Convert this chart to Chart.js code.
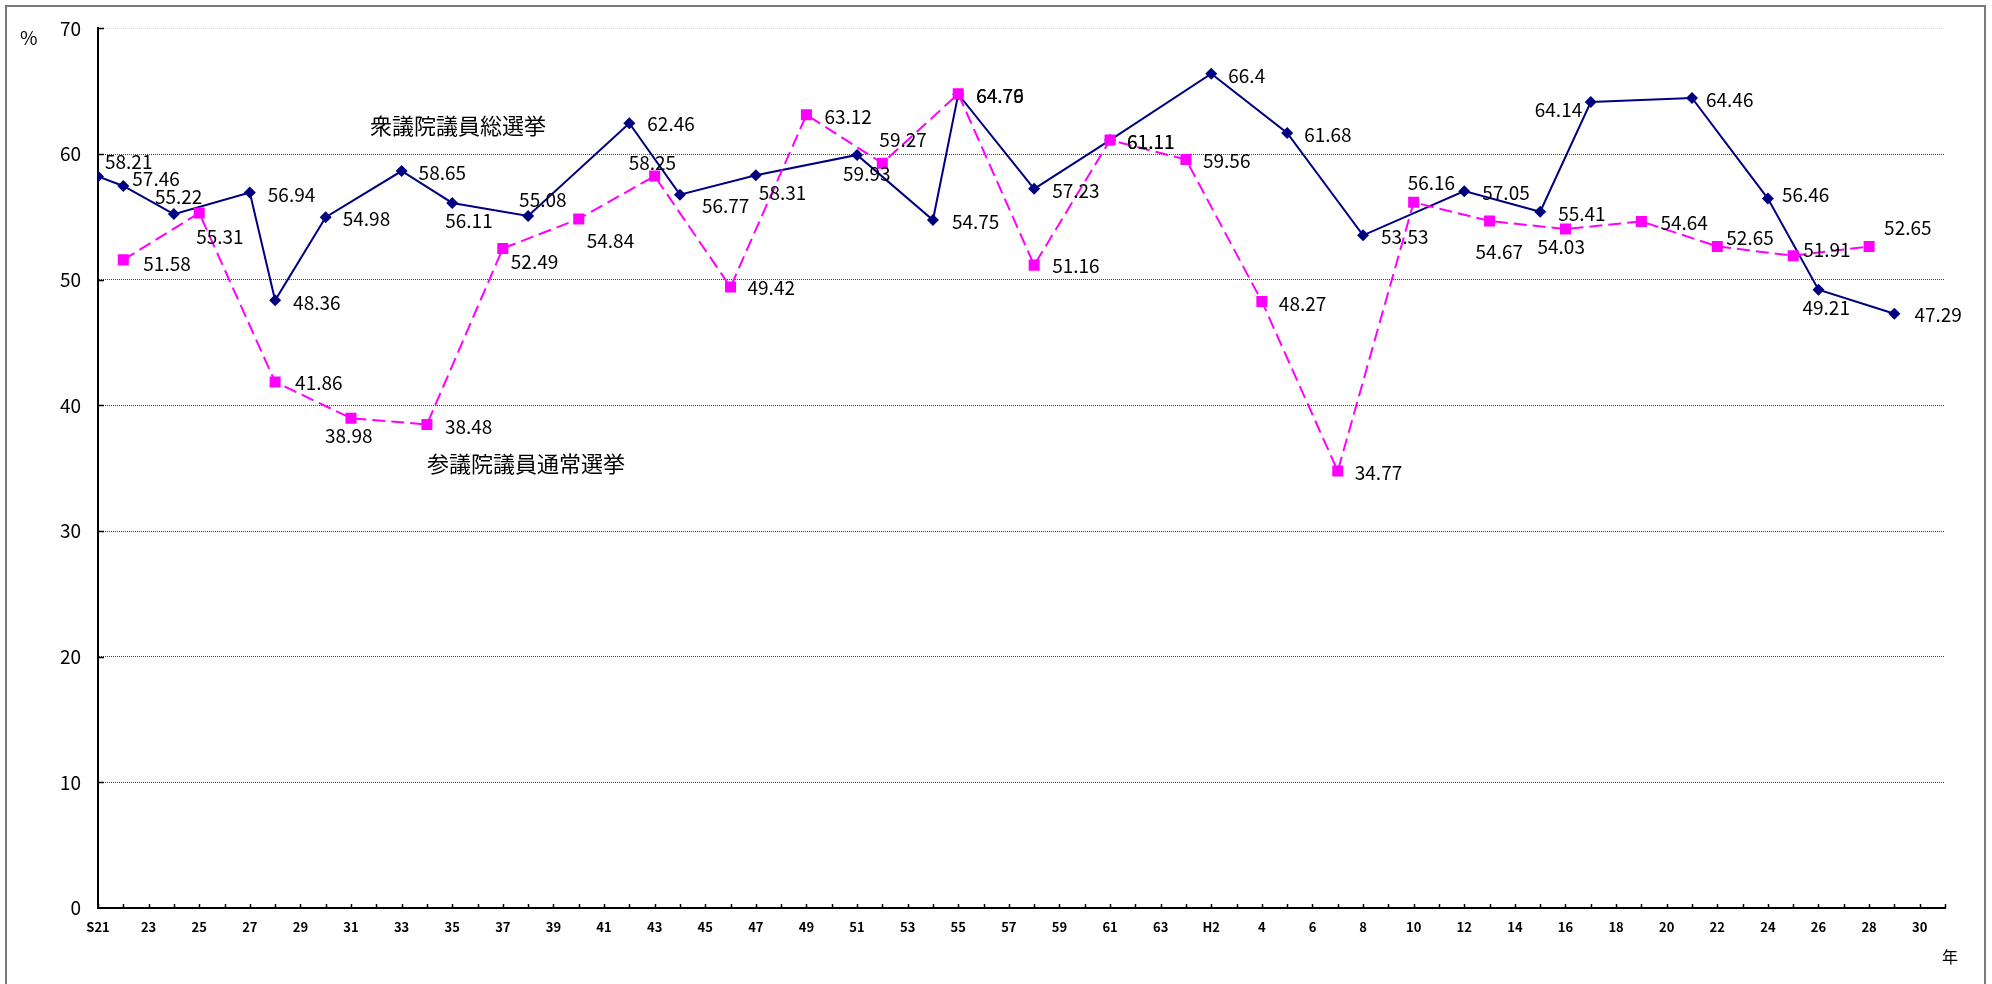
<!DOCTYPE html>
<html>
<head>
<meta charset="utf-8">
<script src="https://cdn.jsdelivr.net/npm/chart.js@4"></script>
<style>
  html, body { margin: 0; padding: 0; background: #fff; }
  #wrap { width: 1992px; height: 984px; }
</style>
</head>
<body>
<div id="wrap"><canvas id="turnout-chart" width="1992" height="984"></canvas></div>
<script>
// Tick labels on the x axis (every 2 years, S21 = 1946)
const xTickLabels = ["S21", "23", "25", "27", "29", "31", "33", "35", "37", "39", "41", "43", "45", "47", "49",
    "51", "53", "55", "57", "59", "61", "63", "H2", "4", "6", "8", "10", "12", "14", "16", "18", "20", "22",
    "24", "26", "28", "30"];
const firstYear = 1946;
const lastYear = 2019;

// 衆議院議員総選挙
const shugiinYears = [1946, 1947, 1949, 1952, 1953, 1955, 1958, 1960, 1963, 1967, 1969, 1972, 1976, 1979,
    1980, 1983, 1986, 1990, 1993, 1996, 2000, 2003, 2005, 2009, 2012, 2014, 2017];
const shugiinRates = [58.21, 57.46, 55.22, 56.94, 48.36, 54.98, 58.65, 56.11, 55.08, 62.46, 56.77, 58.31,
    59.93, 54.75, 64.76, 57.23, 61.11, 66.4, 61.68, 53.53, 57.05, 55.41, 64.14, 64.46, 56.46, 49.21, 47.29];

// 参議院議員通常選挙
const sangiinYears = [1947, 1950, 1953, 1956, 1959, 1962, 1965, 1968, 1971, 1974, 1977, 1980, 1983, 1986,
    1989, 1992, 1995, 1998, 2001, 2004, 2007, 2010, 2013, 2016];
const sangiinRates = [51.58, 55.31, 41.86, 38.98, 38.48, 52.49, 54.84, 58.25, 49.42, 63.12, 59.27, 64.79,
    51.16, 61.11, 59.56, 48.27, 34.77, 56.16, 54.67, 54.03, 54.64, 52.65, 51.91, 52.65];

// label placement (pixel offset of the text's left edge / middle from the point)
const shugiinLabelOffsets = [[7, -15], [9, -7], [-19, -17], [18, 2], [18, 2], [17, 2], [17, 2], [-7, 18],
    [-9, -16], [18, 1], [22, 11], [3, 17], [-14, 19], [19, 2], [18, 2], [18, 2], [17, 2], [17, 2], [17, 2],
    [18, 1], [18, 2], [18, 2], [-56, 8], [14, 2], [14, -4], [-16, 18], [20, 1]];
const sangiinLabelOffsets = [[20, 4], [-3, 24], [20, 1], [-26, 18], [18, 2], [8, 13], [8, 22], [-26, -13],
    [17, 1], [18, 2], [-3, -23], [18, 2], [18, 1], [17, 2], [17, 1], [17, 2], [17, 2], [-6, -20], [-14, 31],
    [-28, 18], [19, 1], [9, -9], [10, -6], [15, -19]];

const labelFont = '19px "Noto Sans CJK JP", "Noto Sans", sans-serif';

function toPoints(years, rates) {
    return years.map((y, i) => ({ x: y, y: rates[i] }));
}

// draws the frame, the inward tick marks, the value labels and the texts
const annotations = {
    id: "annotations",
    beforeDraw(chart) {
        const ctx = chart.ctx;
        ctx.save();
        ctx.fillStyle = "#fff";
        ctx.fillRect(0, 0, chart.width, chart.height);
        ctx.strokeStyle = "#7a7a7a";
        ctx.lineWidth = 2;
        ctx.strokeRect(6, 6, 1979, 1000);
        ctx.restore();
    },
    afterDatasetsDraw(chart) {
        const ctx = chart.ctx;
        const xs = chart.scales.x;
        const ys = chart.scales.y;
        const area = chart.chartArea;

        // inward tick marks
        ctx.save();
        ctx.strokeStyle = "#000";
        ctx.lineWidth = 1.5;
        ctx.beginPath();
        for (let yr = firstYear; yr <= lastYear; yr++) {
            const px = Math.round(xs.getPixelForValue(yr)) + 0.5;
            ctx.moveTo(px, area.bottom);
            ctx.lineTo(px, area.bottom - 4);
        }
        for (let v = 10; v <= 70; v += 10) {
            const py = Math.round(ys.getPixelForValue(v)) + 0.5;
            ctx.moveTo(area.left, py);
            ctx.lineTo(area.left + 6, py);
        }
        ctx.stroke();
        ctx.restore();

        // value labels
        const offsets = [sangiinLabelOffsets, shugiinLabelOffsets];
        ctx.save();
        ctx.font = labelFont;
        ctx.fillStyle = "#000";
        ctx.textAlign = "left";
        ctx.textBaseline = "middle";
        chart.data.datasets.forEach((ds, i) => {
            const meta = chart.getDatasetMeta(i);
            meta.data.forEach((el, j) => {
                const off = offsets[i][j] || [16, 2];
                ctx.fillText(String(ds.data[j].y), el.x + off[0], el.y + off[1]);
            });
        });

        // series names
        ctx.font = '22px "Noto Sans CJK JP", sans-serif';
        ctx.fillText("衆議院議員総選挙", xs.getPixelForValue(1956.75), ys.getPixelForValue(62.3));
        ctx.fillText("参議院議員通常選挙", xs.getPixelForValue(1959.0), ys.getPixelForValue(35.4));

        // unit texts
        ctx.font = '19px "Noto Sans CJK JP", sans-serif';
        ctx.fillText("%", 20, 38);
        ctx.font = '16px "Noto Sans CJK JP", sans-serif';
        ctx.fillText("年", 1942, 957);
        ctx.restore();
    }
};

const ctx = document.getElementById("turnout-chart").getContext("2d");
const turnoutChart = new Chart(ctx, {
    type: "line",
    data: {
        datasets: [
            {
                label: "参議院議員通常選挙",
                data: toPoints(sangiinYears, sangiinRates),
                borderColor: "#ff00ff",
                backgroundColor: "#ff00ff",
                borderWidth: 2,
                borderDash: [13, 6],
                pointStyle: "rect",
                pointRadius: 7.8,
                pointBorderWidth: 0,
                pointBackgroundColor: "#ff00ff",
                tension: 0,
                fill: false,
            },
            {
                label: "衆議院議員総選挙",
                data: toPoints(shugiinYears, shugiinRates),
                borderColor: "#000080",
                backgroundColor: "#000080",
                borderWidth: 2,
                pointStyle: "rectRot",
                pointRadius: 6,
                pointBorderWidth: 0,
                pointBackgroundColor: "#000080",
                tension: 0,
                fill: false,
            },
        ],
    },
    options: {
        responsive: false,
        animation: false,
        layout: { padding: { top: 27, right: 47, left: 0, bottom: 0 } },
        plugins: {
            legend: { display: false },
            tooltip: { enabled: false },
        },
        scales: {
            x: {
                type: "linear",
                min: firstYear,
                max: lastYear,
                afterBuildTicks: (scale) => {
                    scale.ticks = xTickLabels.map((_, i) => ({ value: firstYear + i * 2 }));
                },
                afterFit: (scale) => { scale.height = 76; },
                grid: { display: false, drawTicks: false },
                border: { display: true, color: "#000", width: 2 },
                ticks: {
                    autoSkip: false,
                    maxRotation: 0,
                    padding: 11,
                    color: "#000",
                    font: { family: '"Noto Sans CJK JP", sans-serif', size: 13, weight: "bold" },
                    callback: (value) => xTickLabels[(value - firstYear) / 2],
                },
            },
            y: {
                min: 0,
                max: 70,
                afterFit: (scale) => { scale.width = 98; },
                grid: {
                    color: (c) => (c.tick && c.tick.value === 70 ? "#d8d8d8" : "#404040"),
                    lineWidth: 1,
                    drawTicks: false,
                },
                border: { display: true, color: "#000", width: 2, dash: [1, 1] },
                ticks: {
                    stepSize: 10,
                    padding: 17,
                    color: "#000",
                    font: { family: '"Noto Sans CJK JP", sans-serif', size: 19 },
                },
            },
        },
    },
    plugins: [annotations],
});
</script>
</body>
</html>
